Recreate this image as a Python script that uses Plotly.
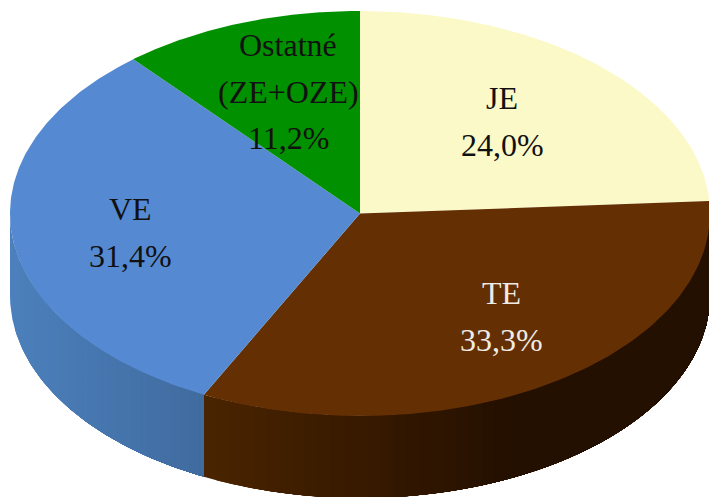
import numpy as np
import plotly.graph_objects as go

categories = ["JE", "TE", "VE", "Ostatné\n(ZE+OZE)"]
values = [24.0, 33.3, 31.4, 11.2]
top_colors = ["#FCF9C8", "#632F03", "#558AD3", "#009000"]
wall_stops = {
    "TE": [(0.0, "#4A2400"), (0.3, "#381A00"), (0.6, "#241000"), (1.0, "#241000")],
    "VE": [(0.0, "#4C80BC"), (1.0, "#406B9F")],
}
label_colors = ["#111111", "#EFEBE6", "#111111", "#111111"]
label_x = [502, 501, 130, 288]
label_y = [98, 293, 209, 45]

W, H = 709, 497
CX, CY, RX, RY, DEPTH = 360, 213.5, 350, 202.5, 82
LINE_STEP = 46.5
STRIPS = 40


def ex(a):
    return CX + RX * np.sin(a)


def ey(a):
    return CY - RY * np.cos(a)


def hex2rgb(c):
    return np.array([int(c[i:i + 2], 16) for i in (1, 3, 5)], float)


def ramp(stops, t):
    for (t0, c0), (t1, c1) in zip(stops, stops[1:]):
        if t <= t1:
            f = (t - t0) / (t1 - t0)
            v = hex2rgb(c0) * (1 - f) + hex2rgb(c1) * f
            return "rgb(%d,%d,%d)" % tuple(v.round())
    return stops[-1][1]


total = sum(values)
edges = np.concatenate([[0], np.cumsum(values)]) / total * 2 * np.pi
fig = go.Figure()


def poly(xs, ys, color):
    fig.add_trace(go.Scatter(
        x=xs, y=ys, mode="lines", fill="toself", fillcolor=color,
        line=dict(color=color, width=0), hoverinfo="skip", showlegend=False,
    ))


# side wall: only the front half of the ellipse is visible.
# Each strip runs to the slice's right end and is painted over by the next one,
# so no seams show between the gradient steps.
for i, cat in enumerate(categories):
    lo, hi = max(edges[i], np.pi / 2), min(edges[i + 1], 3 * np.pi / 2)
    if hi <= lo:
        continue
    cuts = np.linspace(ex(hi), ex(lo), STRIPS + 1)
    for k in range(STRIPS):
        ak = np.pi - np.arcsin(np.clip((cuts[k] - CX) / RX, -1, 1))
        a = np.linspace(ak, lo, 120)
        px = np.concatenate([ex(a), ex(a)[::-1]])
        py = np.concatenate([ey(a), (ey(a) + DEPTH)[::-1]])
        poly(px, py, ramp(wall_stops[cat], (k + 0.5) / STRIPS))

# top faces
for i in range(len(values)):
    a = np.linspace(edges[i], edges[i + 1], 160)
    poly(np.concatenate([[CX], ex(a), [CX]]),
         np.concatenate([[CY], ey(a), [CY]]), top_colors[i])

# labels
annotations = []
for i, cat in enumerate(categories):
    lines = cat.split("\n") + [f"{values[i]:.1f}%".replace(".", ",")]
    for j, text in enumerate(lines):
        annotations.append(dict(
            x=label_x[i], y=label_y[i] + j * LINE_STEP, text=text, showarrow=False,
            xanchor="center", yanchor="middle",
            font=dict(family="Liberation Serif", size=32, color=label_colors[i]),
        ))

fig.update_layout(
    width=W, height=H, margin=dict(l=0, r=0, t=0, b=0),
    paper_bgcolor="white", plot_bgcolor="white", annotations=annotations,
    xaxis=dict(visible=False, range=[0, W], fixedrange=True),
    yaxis=dict(visible=False, range=[H, 0], fixedrange=True),
)
fig.write_html(
    "out.html",
    config=dict(displayModeBar=False),
    post_script="document.body.style.margin='0';document.documentElement.style.overflow='hidden';",
)
